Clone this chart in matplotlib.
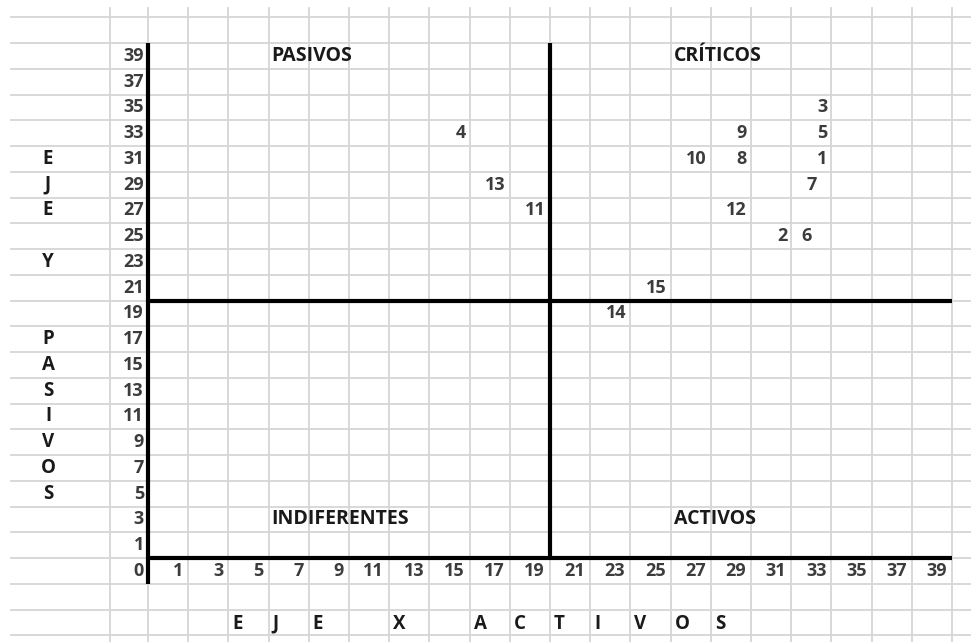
import matplotlib
matplotlib.use("Agg")
import matplotlib.pyplot as plt
import numpy as np

# ---- data ----
point_ids = ["1", "2", "3", "4", "5", "6", "7", "8", "9", "10", "11", "12", "13", "14", "15"]
activos = [33, 31, 33, 15, 33, 33, 33, 29, 29, 27, 19, 29, 17, 23, 25]
pasivos = [31, 25, 35, 33, 33, 25, 29, 31, 33, 31, 27, 27, 29, 19, 21]
x_ticks = list(range(1, 40, 2))
y_ticks = list(range(39, 0, -2))
quadrants = ["PASIVOS", "CRÍTICOS", "INDIFERENTES", "ACTIVOS"]
y_axis_letters = ["E", "J", "E", "", "Y", "", "", "P", "A", "S", "I", "V", "O", "S"]
x_axis_letters = ["E", "J", "E", "", "X", "", "A", "C", "T", "I", "V", "O", "S"]

FONT = "Open Sans"
TXT = "#3c3c3c"
HEAD = "#1a1a1a"
GRID = "#d6d6d6"

fig = plt.figure(figsize=(9.71, 6.42), dpi=100)
ax = fig.add_axes([0, 0, 1, 1])
ax.set_xlim((0 - 148) / 20.1, (971 - 148) / 20.1)
ax.set_ylim((558 - 642) / 12.875, (558 - 0) / 12.875)
ax.axis("off")

# spreadsheet grid
x_left = (11 - 148) / 20.1
x_first = (110 - 148) / 20.1
y_top_v = (558 - 8) / 12.875
for yv in np.arange(-6, 43, 2):
    ax.plot([x_left, 41], [yv, yv], color=GRID, lw=1.3, zorder=1)
for xv in [x_first] + list(np.arange(0, 41, 2)):
    ax.plot([xv, xv], [-7, y_top_v], color=GRID, lw=1.3, zorder=1)

# quadrant axes
ax.plot([0, 0], [-2, 40], color="black", lw=3.0, zorder=3, solid_capstyle="butt")
ax.plot([20, 20], [0, 40], color="black", lw=3.0, zorder=3, solid_capstyle="butt")
ax.plot([0, 40], [0, 0], color="black", lw=3.0, zorder=3, solid_capstyle="butt")
ax.plot([0, 40], [20, 20], color="black", lw=3.0, zorder=3, solid_capstyle="butt")

fs = 13
NW = "bold"
# y tick labels
for v in y_ticks:
    ax.text(-0.2, v, str(v), ha="right", va="center", fontsize=fs, family=FONT,
            color=TXT, fontweight=NW)
ax.text(-0.2, -1, "0", ha="right", va="center", fontsize=fs, family=FONT,
        color=TXT, fontweight=NW)
# x tick labels
for v in x_ticks:
    ax.text(v + 0.75, -1, str(v), ha="right", va="center", fontsize=fs, family=FONT,
            color=TXT, fontweight=NW)

# points (labels)
for lab, xa, yp in zip(point_ids, activos, pasivos):
    if lab == "6":
        ax.text(xa - 0.5, yp, lab, ha="left", va="center", fontsize=fs, family=FONT,
                color=TXT, fontweight=NW)
    elif lab == "7":
        ax.text(xa, yp, lab, ha="center", va="center", fontsize=fs, family=FONT,
                color=TXT, fontweight=NW)
    else:
        ax.text(xa + 0.8, yp, lab, ha="right", va="center", fontsize=fs, family=FONT,
                color=TXT, fontweight=NW)

# quadrant names
qpos = [(6, 39), (26, 39), (6, 3), (26, 3)]
for name, (qx, qy) in zip(quadrants, qpos):
    ax.text(qx + 0.15, qy, name, ha="left", va="center", fontsize=14, family=FONT,
            color=HEAD, fontweight="bold")

# vertical axis title (letter per row)
for i, ch in enumerate(y_axis_letters):
    if ch:
        ax.text((48 - 148) / 20.1, 31 - 2 * i, ch, ha="center", va="center", fontsize=13.5,
                family=FONT, color=HEAD, fontweight="bold")

# horizontal axis title (letter per column)
for i, ch in enumerate(x_axis_letters):
    if ch:
        ax.text(4 + 2 * i + 0.2, -5.1, ch, ha="left", va="center", fontsize=13.5,
                family=FONT, color=HEAD, fontweight="bold")

fig.savefig("out.png", dpi=100)
